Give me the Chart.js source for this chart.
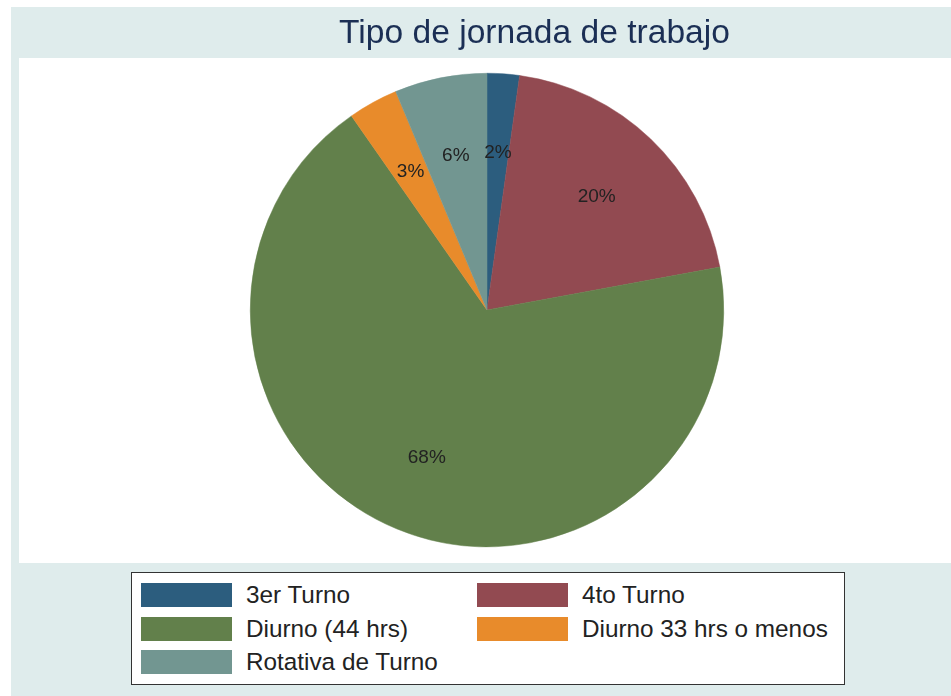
<!DOCTYPE html>
<html>
<head>
<meta charset="utf-8">
<script src="https://cdn.jsdelivr.net/npm/chart.js@4/dist/chart.umd.min.js"></script>
<style>
    html, body { margin: 0; padding: 0; background: #ffffff; }
    #wrap { position: relative; width: 951px; height: 696px; font-family: "Liberation Sans", Arial, sans-serif; }
    #chart { position: absolute; left: 0; top: 0; }
    #title { position: absolute; left: 11px; right: 0; top: 13px; text-align: center; font-size: 33.6px; color: #1b2f55; padding-left: 107px; }
    #legend { position: absolute; left: 131px; top: 572px; width: 714px; height: 113px; border: 1px solid #333; background: #fff; box-sizing: border-box; }
    .item { position: absolute; display: flex; align-items: center; font-size: 24.3px; color: #222; }
    .sw { width: 91px; height: 24px; margin-right: 14px; }
</style>
</head>
<body>
<div id="wrap">
    <canvas id="chart" width="951" height="696"></canvas>
    <div id="title">Tipo de jornada de trabajo</div>
    <div id="legend"></div>
</div>
<script>
const categories = ['3er Turno', '4to Turno', 'Diurno (44 hrs)', 'Diurno 33 hrs o menos', 'Rotativa de Turno'];
const shares = [2.2, 19.9, 68.2, 3.4, 6.3];
const sliceLabels = ['2%', '20%', '68%', '3%', '6%'];
const colors = ['#2c5d7e', '#924a51', '#62804b', '#e88b2b', '#729691'];

// background + plot region, painted under the pie
const backdrop = {
    id: 'backdrop',
    beforeDraw(chart) {
        const ctx = chart.ctx;
        ctx.save();
        ctx.fillStyle = '#ffffff';
        ctx.fillRect(0, 0, 951, 696);
        ctx.fillStyle = '#dfecec';
        ctx.fillRect(11, 7, 940, 689);
        ctx.fillStyle = '#ffffff';
        ctx.fillRect(19, 58, 932, 505);
        ctx.restore();
    }
};

// percentage text at 2/3 of the radius, mid angle of each slice
const sliceText = {
    id: 'sliceText',
    afterDatasetsDraw(chart) {
        const ctx = chart.ctx;
        const meta = chart.getDatasetMeta(0);
        ctx.save();
        ctx.font = '19px "Liberation Sans", Arial, sans-serif';
        ctx.fillStyle = '#222';
        ctx.textAlign = 'center';
        ctx.textBaseline = 'middle';
        meta.data.forEach((arc, i) => {
            const mid = (arc.startAngle + arc.endAngle) / 2;
            const r = arc.outerRadius * 0.67;
            ctx.fillText(sliceLabels[i], arc.x + Math.cos(mid) * r, arc.y + Math.sin(mid) * r + 1);
        });
        ctx.restore();
    }
};

new Chart(document.getElementById('chart').getContext('2d'), {
    type: 'pie',
    data: {
        labels: categories,
        datasets: [{
            data: shares,
            backgroundColor: colors,
            borderColor: colors,
            borderWidth: 0.5
        }]
    },
    options: {
        responsive: false,
        animation: false,
        layout: { padding: { left: 250, right: 227, top: 73, bottom: 149 } },
        plugins: {
            legend: { display: false },
            tooltip: { enabled: false }
        }
    },
    plugins: [backdrop, sliceText]
});

// two-column legend box
const legend = document.getElementById('legend');
categories.forEach((name, i) => {
    const item = document.createElement('div');
    item.className = 'item';
    item.style.left = (i % 2 === 0 ? 9 : 345) + 'px';
    item.style.top = (8 + Math.floor(i / 2) * 33.5) + 'px';
    item.innerHTML = `<div class="sw" style="background:${colors[i]}"></div><span>${name}</span>`;
    legend.appendChild(item);
});
</script>
</body>
</html>
